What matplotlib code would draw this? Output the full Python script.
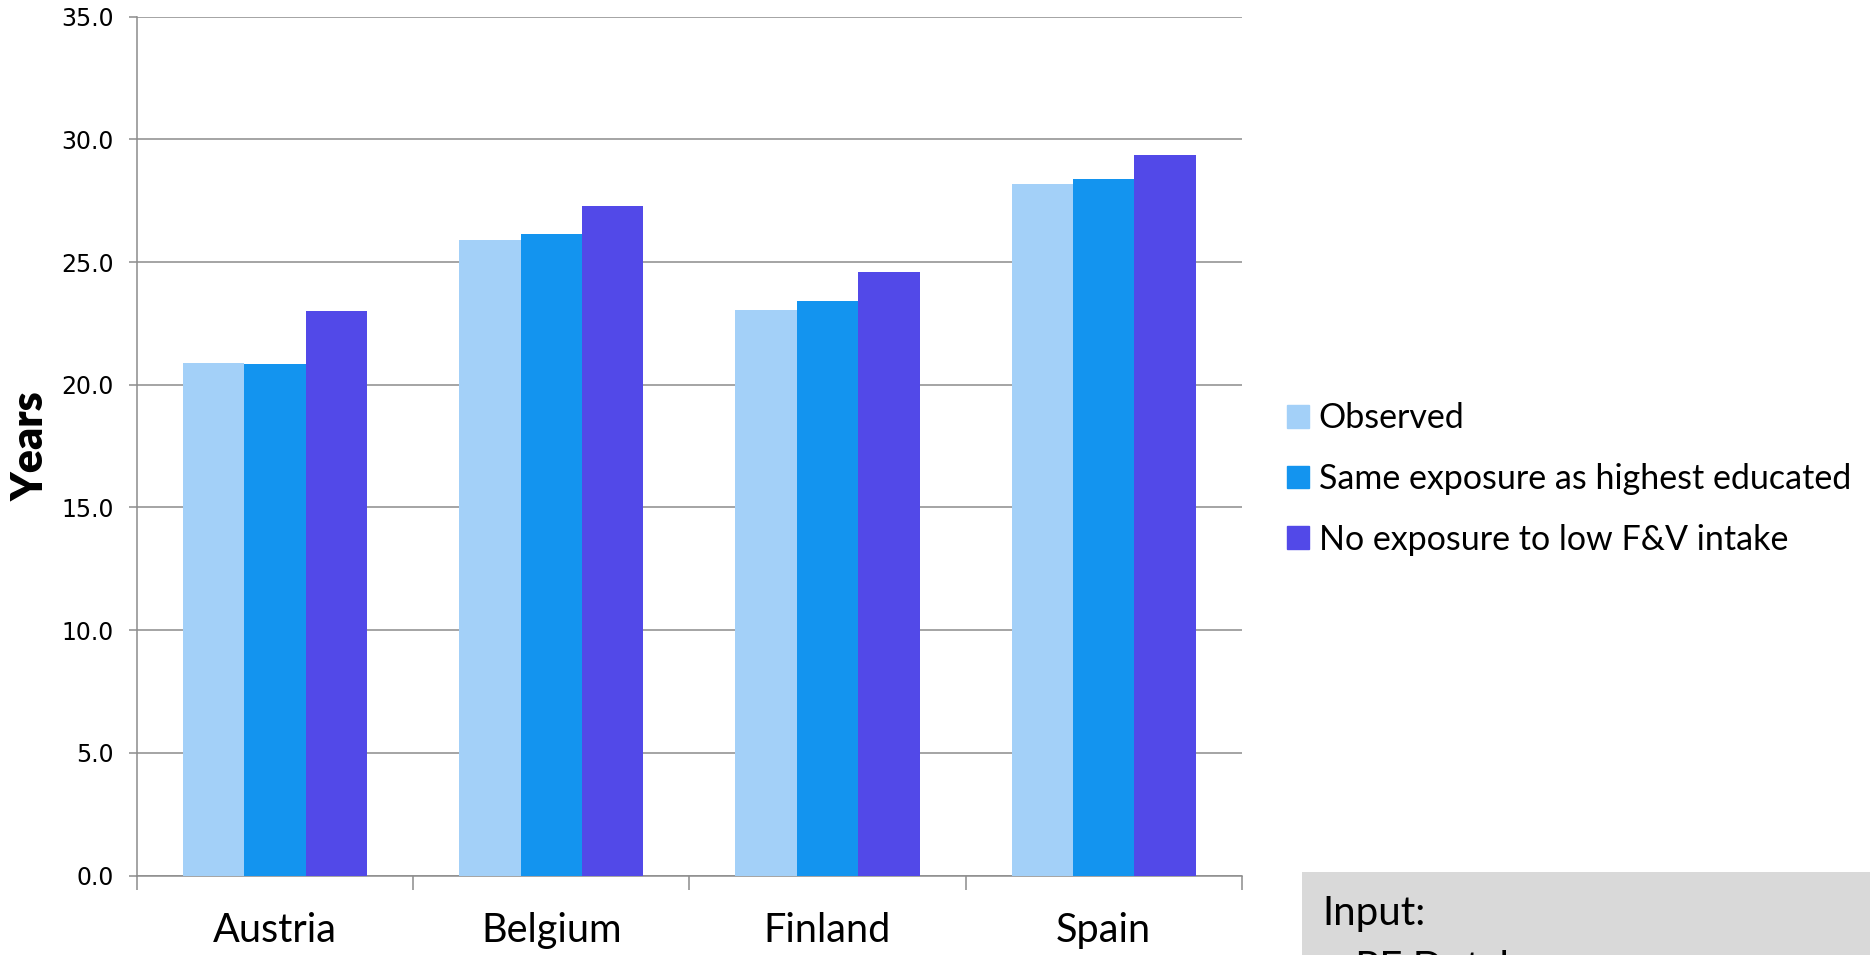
import numpy as np
import matplotlib.pyplot as plt
from matplotlib.patches import Rectangle, Patch

# values
countries = ["Austria", "Belgium", "Finland", "Spain"]
observed = [20.87, 25.92, 23.05, 28.18]
same_exposure = [20.85, 26.16, 23.40, 28.37]
no_exposure = [23.00, 27.30, 24.61, 29.38]
series_names = ["Observed", "Same exposure as highest educated",
                "No exposure to low F&V intake"]
y_ticks = [0, 5, 10, 15, 20, 25, 30, 35]

colors = ["#a3d0f8", "#1394ef", "#5249e8"]
axis_grey = "#8c8c8c"
label_font = "Lato"

fig = plt.figure(figsize=(18.7, 9.55), dpi=100)
ax = fig.add_axes([0.0733, 0.0832, 0.5907, 0.8993])

x = np.arange(len(countries))
w = 1 / 4.5
for i, (vals, c) in enumerate(zip([observed, same_exposure, no_exposure], colors)):
    ax.bar(x + (i - 1) * w, vals, width=w, color=c, zorder=3)

ax.set_xlim(-0.5, len(countries) - 0.5)
ax.set_ylim(0, 35)
ax.set_yticks(y_ticks)
ax.set_yticklabels([f"{v:.1f}" for v in y_ticks])
ax.yaxis.grid(True, color=axis_grey, linewidth=1.1, zorder=0)

# category boundaries as major ticks, names on minor ticks
ax.set_xticks(np.arange(len(countries) + 1) - 0.5)
ax.set_xticklabels([])
ax.set_xticks(x, minor=True)
ax.set_xticklabels(countries, minor=True, fontsize=28.5, family=label_font)
ax.tick_params(axis="x", which="major", length=10, width=1.1, color=axis_grey)
ax.tick_params(axis="x", which="minor", length=0, pad=26)
ax.tick_params(axis="y", length=6, width=1.1, color=axis_grey, labelsize=17, pad=11)

for side in ["top", "right"]:
    ax.spines[side].set_visible(False)
for side in ["left", "bottom"]:
    ax.spines[side].set_color(axis_grey)
    ax.spines[side].set_linewidth(1.1)

ax.set_ylabel("Years", fontsize=31, fontweight="heavy", family=label_font)
ax.yaxis.set_label_coords(-0.078, 0.50)

handles = [Patch(color=c) for c in colors]
fig.legend(handles, series_names, loc="center left", bbox_to_anchor=(0.681, 0.4985),
           frameon=False, prop={"family": label_font, "size": 24.5},
           handlelength=0.63, handleheight=0.63, handletextpad=0.3,
           labelspacing=0.84, borderaxespad=0)

# grey input box at the bottom right, its second line cut by the figure edge
fig.patches.append(Rectangle((1302 / 1870, 0), 1, 0.0872, transform=fig.transFigure,
                             facecolor="#d9d9d9", edgecolor="none"))
fig.text(0.707, 0.031, "Input:", fontsize=29, family=label_font, va="baseline")
fig.text(0.711, -0.026, "- PE Dutch", fontsize=29, family=label_font, va="baseline")

fig.savefig("out.png", dpi=100)
